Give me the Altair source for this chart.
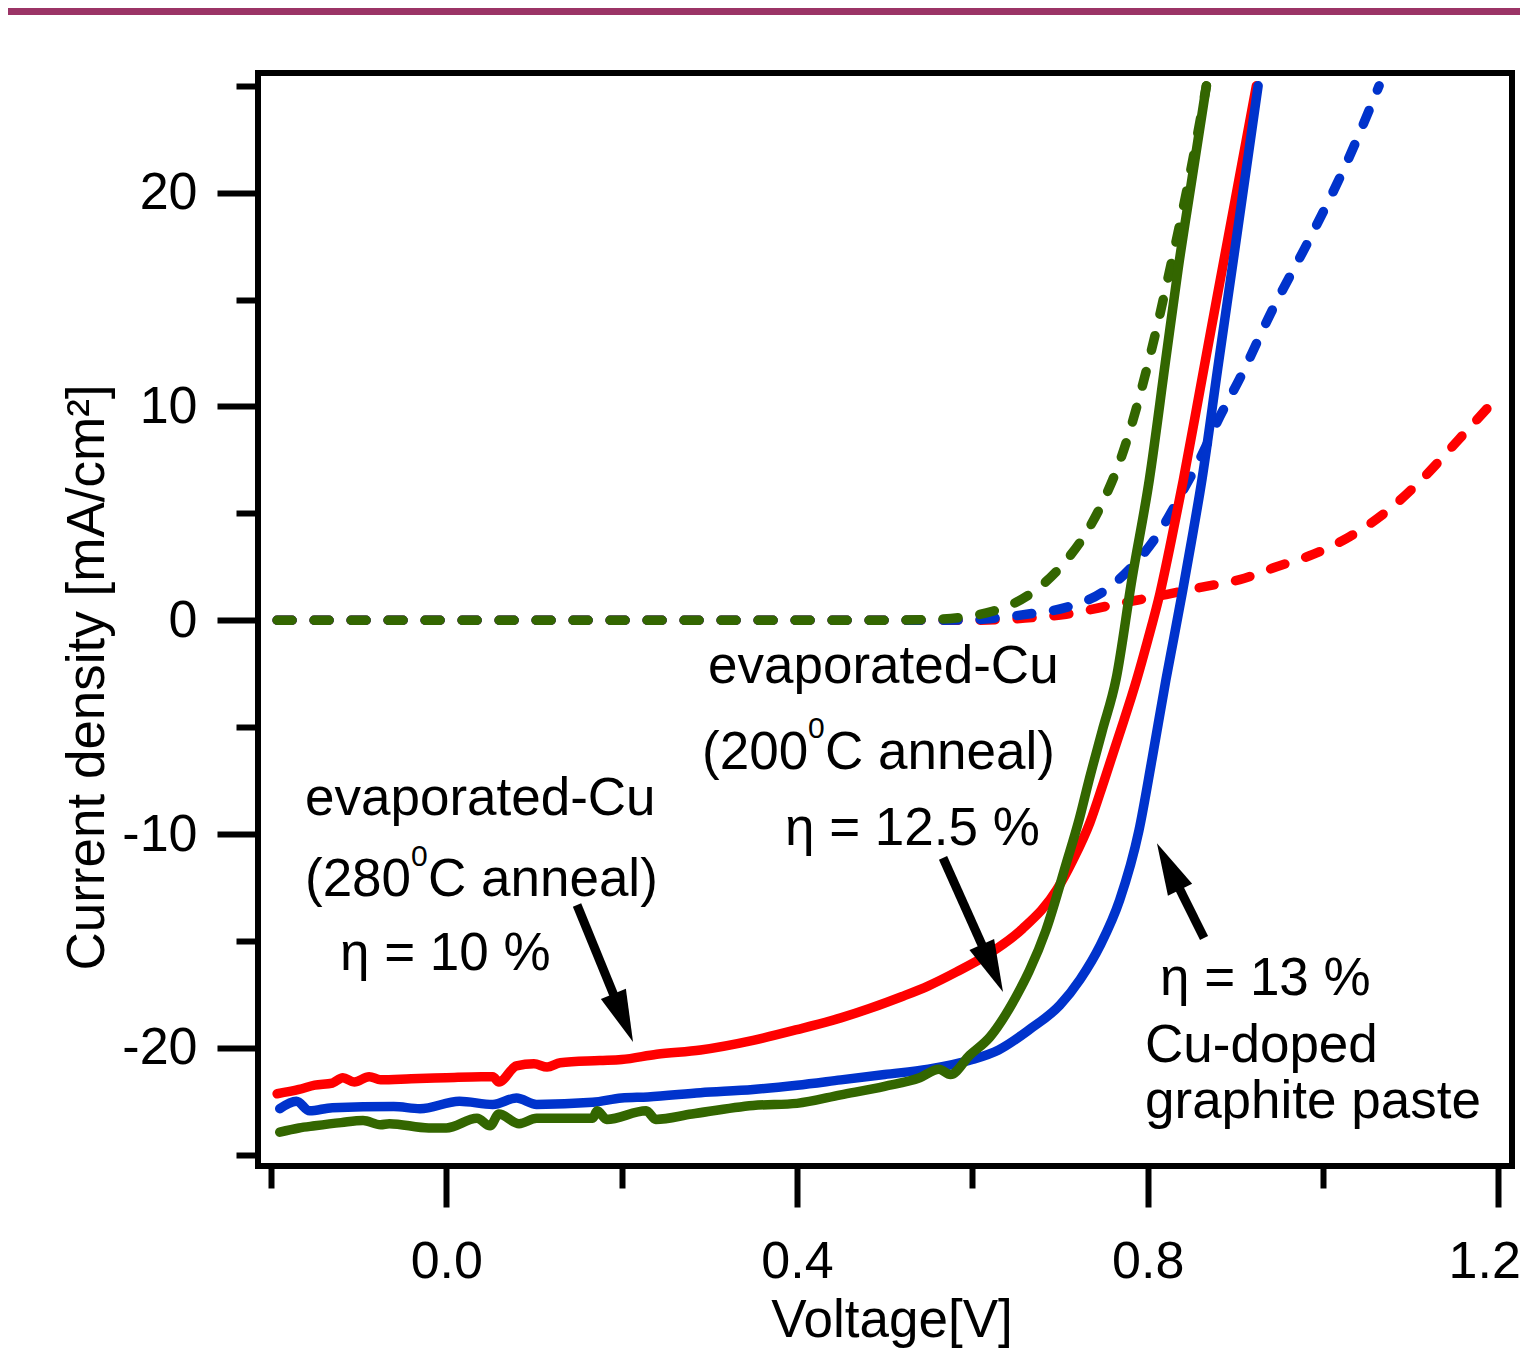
import math
import altair as alt
import pandas as pd

# ---------------- axes / domains ----------------
X_DOMAIN = [-0.2148, 1.2156]
Y_DOMAIN = [-25.53, 25.60]
PLOT_W, PLOT_H = 1254, 1093
X_TICKS = [-0.2, 0.0, 0.2, 0.4, 0.6, 0.8, 1.0, 1.2]
Y_TICKS = [-25, -20, -15, -10, -5, 0, 5, 10, 15, 20, 25]
X_TITLE = "Voltage[V]"
Y_TITLE = "Current density [mA/cm²]"

# ---------------- series (V in volts, J in mA/cm2) ----------------
red_solid_v = [-0.193, -0.168, -0.150, -0.130, -0.118, -0.105, -0.088, -0.075, -0.040, 0.000,
               0.040, 0.053, 0.060, 0.080, 0.100, 0.115, 0.130, 0.175, 0.200, 0.240,
               0.290, 0.350, 0.400, 0.450, 0.520, 0.550, 0.582, 0.619, 0.657, 0.6965,
               0.715, 0.7342, 0.750, 0.768, 0.7875, 0.800, 0.814, 0.827, 0.8407,
               0.860, 0.880, 0.900, 0.924]
red_solid_j = [-22.15, -21.95, -21.75, -21.65, -21.40, -21.60, -21.35, -21.50, -21.45, -21.40,
               -21.35, -21.35, -21.60, -20.85, -20.75, -20.90, -20.70, -20.60, -20.55, -20.30,
               -20.10, -19.65, -19.15, -18.60, -17.60, -17.10, -16.45, -15.60, -14.44, -12.60,
               -11.20, -9.46, -7.55, -5.30, -2.78, -0.95, 1.25, 3.75, 6.56,
               10.85, 15.30, 19.70, 25.00]

blue_solid_v = [-0.190, -0.171, -0.156, -0.130, -0.060, -0.030, 0.015, 0.053, 0.080, 0.103,
                0.167, 0.200, 0.230, 0.290, 0.350, 0.400, 0.450, 0.500, 0.550, 0.600,
                0.630, 0.665, 0.700, 0.723, 0.746, 0.768, 0.790, 0.805, 0.821,
                0.830, 0.840, 0.850, 0.862, 0.880, 0.900, 0.926]
blue_solid_j = [-22.85, -22.50, -22.95, -22.80, -22.75, -22.85, -22.50, -22.65, -22.35, -22.65,
                -22.55, -22.35, -22.30, -22.10, -21.95, -21.75, -21.50, -21.25, -21.00, -20.55,
                -20.10, -19.15, -18.00, -16.80, -15.20, -13.10, -9.85, -6.50, -2.75,
                -0.80, 1.40, 3.70, 6.60, 11.80, 17.50, 25.00]

green_solid_v = [-0.190, -0.168, -0.150, -0.120, -0.095, -0.075, -0.065, -0.020, 0.000, 0.035,
                 0.050, 0.060, 0.083, 0.103, 0.167, 0.172, 0.183, 0.228, 0.239, 0.280,
                 0.350, 0.400, 0.450, 0.500, 0.540, 0.562, 0.575, 0.597, 0.620, 0.650,
                 0.665, 0.684, 0.707, 0.722, 0.733, 0.748, 0.764, 0.782, 0.802, 0.820,
                 0.835, 0.850, 0.867]
green_solid_j = [-23.95, -23.75, -23.65, -23.50, -23.40, -23.60, -23.55, -23.75, -23.75, -23.30,
                 -23.65, -23.10, -23.55, -23.30, -23.30, -22.95, -23.35, -22.95, -23.35, -23.10,
                 -22.70, -22.60, -22.20, -21.80, -21.40, -21.00, -21.25, -20.35, -19.50, -17.60,
                 -16.40, -14.50, -11.40, -9.30, -7.50, -5.20, -2.75, 1.90, 6.60, 12.00,
                 16.50, 20.50, 25.00]

red_dash_v = [-0.193, 0.0, 0.3, 0.60, 0.66, 0.707, 0.764, 0.821, 0.862, 0.905,
              0.947, 0.990, 1.030, 1.076, 1.113, 1.155, 1.196]
red_dash_j = [0.0, 0.0, 0.0, 0.0, 0.10, 0.28, 0.75, 1.20, 1.55, 1.90,
              2.50, 3.10, 3.90, 5.20, 6.60, 8.46, 10.30]

blue_dash_v = [-0.193, 0.0, 0.3, 0.55, 0.60, 0.630, 0.662, 0.707, 0.748, 0.782,
               0.813, 0.8395, 0.859, 0.882, 0.905, 0.942, 0.988, 1.027, 1.064]
blue_dash_j = [0.0, 0.0, 0.0, 0.0, 0.02, 0.12, 0.28, 0.60, 1.30, 2.50,
               4.10, 6.00, 7.50, 9.50, 11.30, 14.50, 18.10, 21.40, 25.00]

green_dash_v = [-0.193, 0.0, 0.3, 0.50, 0.56, 0.59, 0.623, 0.662, 0.703, 0.733,
                0.753, 0.768, 0.787, 0.798, 0.810, 0.821, 0.836, 0.847, 0.855, 0.867]
green_dash_j = [0.0, 0.0, 0.0, 0.0, 0.05, 0.15, 0.42, 1.12, 2.60, 4.30,
                5.90, 7.40, 9.90, 11.60, 13.60, 15.60, 18.40, 20.60, 22.30, 25.00]

RED, BLUE, GREEN = "#ff0000", "#0033cc", "#336600"

# ---------------- annotations ----------------
ANN_TEXT = ["evaporated-Cu", "(280", "C anneal)", "η = 10 %",
            "evaporated-Cu", "(200", "C anneal)", "η = 12.5 %",
            "η = 13 %", "Cu-doped", "graphite paste"]
ANN_V = [-0.1612, -0.1612, -0.0209, -0.1213,
         0.2985, 0.2917, 0.4320, 0.3863,
         0.8141, 0.7970, 0.7970]
ANN_J = [-9.11, -12.90, -12.90, -16.36,
         -2.94, -6.96, -6.96, -10.52,
         -17.53, -20.67, -23.29]
SUP_TEXT = ["0", "0"]
SUP_V = [-0.0403, 0.4126]
SUP_J = [-11.50, -5.51]

# arrows: tail -> tip
ARROW_TAIL_V = [0.1491, 0.5666, 0.8643]
ARROW_TAIL_J = [-13.32, -11.12, -14.87]
ARROW_TIP_V = [0.2130, 0.6350, 0.8106]
ARROW_TIP_J = [-19.73, -17.39, -10.43]

FONT = "Liberation Sans"

# ---------------- helpers ----------------
PX_V = PLOT_W / (X_DOMAIN[1] - X_DOMAIN[0])
PX_J = PLOT_H / (Y_DOMAIN[1] - Y_DOMAIN[0])


def to_px(v, j):
    return (v - X_DOMAIN[0]) * PX_V, (Y_DOMAIN[1] - j) * PX_J


def to_data(px, py):
    return X_DOMAIN[0] + px / PX_V, Y_DOMAIN[1] - py / PX_J


HEAD_LEN = 52
rows_shaft, rows_head = [], []
for tv, tj, hv, hj in zip(ARROW_TAIL_V, ARROW_TAIL_J, ARROW_TIP_V, ARROW_TIP_J):
    x0, y0 = to_px(tv, tj)
    x1, y1 = to_px(hv, hj)
    dx, dy = x1 - x0, y1 - y0
    L = math.hypot(dx, dy)
    ux, uy = dx / L, dy / L
    bx, by = x1 - ux * (HEAD_LEN - 4), y1 - uy * (HEAD_LEN - 4)
    cx, cy = x1 - ux * HEAD_LEN / 2, y1 - uy * HEAD_LEN / 2
    bv, bj = to_data(bx, by)
    cv, cj = to_data(cx, cy)
    ang = math.degrees(math.atan2(ux, -uy)) % 360
    rows_shaft.append({"V": tv, "J": tj, "V2": bv, "J2": bj})
    rows_head.append({"V": cv, "J": cj, "ang": ang})

xs = alt.Scale(domain=X_DOMAIN, nice=False, zero=False)
ys = alt.Scale(domain=Y_DOMAIN, nice=False, zero=False)

TICK_W = 6
x_major = "abs(round(datum.value * 10)) % 4 === 0"
x_axis = alt.Axis(
    values=X_TICKS,
    labelExpr=f"{x_major} ? format(datum.value, '.1f') : ''",
    tickSize={"condition": {"test": x_major, "value": 41}, "value": 22},
    tickWidth=TICK_W, tickColor="black", domain=False, grid=False,
    labelFont=FONT, labelFontSize=52, labelColor="black", labelPadding=29,
    labelFlush=20, labelFlushOffset=22, labelOverlap=False,
    title=X_TITLE, titleFont=FONT, titleFontSize=53, titleFontWeight="normal",
    titleColor="black", titleX=633.5, titleY=170, titleBaseline="alphabetic",
    titleAlign="center",
)
y_major = "datum.value % 10 === 0"
y_axis = alt.Axis(
    values=Y_TICKS,
    labelExpr=f"{y_major} ? '' + datum.value : ''",
    tickSize={"condition": {"test": y_major, "value": 41}, "value": 22},
    tickWidth=TICK_W, tickColor="black", domain=False, grid=False,
    labelFont=FONT, labelFontSize=52, labelColor="black", labelPadding=20,
    labelOverlap=False,
    title=Y_TITLE, titleFont=FONT, titleFontSize=53, titleFontWeight="normal",
    titleColor="black", titleX=-155, titleY=604, titleBaseline="alphabetic",
    titleAlign="center",
)


def X(field="V"):
    return alt.X(f"{field}:Q", scale=xs, axis=x_axis, title=X_TITLE)


def Y(field="J"):
    return alt.Y(f"{field}:Q", scale=ys, axis=y_axis, title=Y_TITLE)


LW = 9.5


def line_layer(v, j, color, dashed):
    df = pd.DataFrame({"V": v, "J": j})
    kw = dict(color=color, strokeWidth=LW, strokeCap="round", strokeJoin="round",
              interpolate="monotone")
    if dashed:
        kw["strokeDash"] = [15, 22]
    return alt.Chart(df).mark_line(**kw).encode(x=X(), y=Y())


layers = [
    line_layer(red_dash_v, red_dash_j, RED, True),
    line_layer(blue_dash_v, blue_dash_j, BLUE, True),
    line_layer(green_dash_v, green_dash_j, GREEN, True),
    line_layer(red_solid_v, red_solid_j, RED, False),
    line_layer(blue_solid_v, blue_solid_j, BLUE, False),
    line_layer(green_solid_v, green_solid_j, GREEN, False),
]

shaft = alt.Chart(pd.DataFrame(rows_shaft)).mark_rule(color="black", strokeWidth=9).encode(
    x=X(), y=Y(), x2="V2:Q", y2="J2:Q")
head = alt.Chart(pd.DataFrame(rows_head)).mark_point(
    shape="M0,-1L0.52,1L-0.52,1Z", filled=True, size=HEAD_LEN ** 2, color="black",
    opacity=1, strokeWidth=0).encode(
    x=X(), y=Y(), angle=alt.Angle("ang:Q", scale=None))

ann = alt.Chart(pd.DataFrame({"text": ANN_TEXT, "V": ANN_V, "J": ANN_J})).mark_text(
    align="left", baseline="alphabetic", font=FONT, fontSize=53, color="black").encode(
    x=X(), y=Y(), text="text:N")
sup = alt.Chart(pd.DataFrame({"text": SUP_TEXT, "V": SUP_V, "J": SUP_J})).mark_text(
    align="left", baseline="alphabetic", font=FONT, fontSize=30, color="black").encode(
    x=X(), y=Y(), text="text:N")

band = alt.Chart(pd.DataFrame({"k": [0]})).mark_rect(color="#9b3466").encode(
    x=alt.value(-250), x2=alt.value(1262), y=alt.value(-65), y2=alt.value(-58))

chart = alt.layer(*layers, shaft, head, ann, sup, band).properties(
    width=PLOT_W, height=PLOT_H,
    padding={"left": 250, "top": 65, "right": 8, "bottom": 182},
    autosize=alt.AutoSizeParams(type="none"),
    background="white",
).configure_view(stroke="black", strokeWidth=6)

chart.save("out.html", embed_options={"renderer": "svg", "actions": False})
